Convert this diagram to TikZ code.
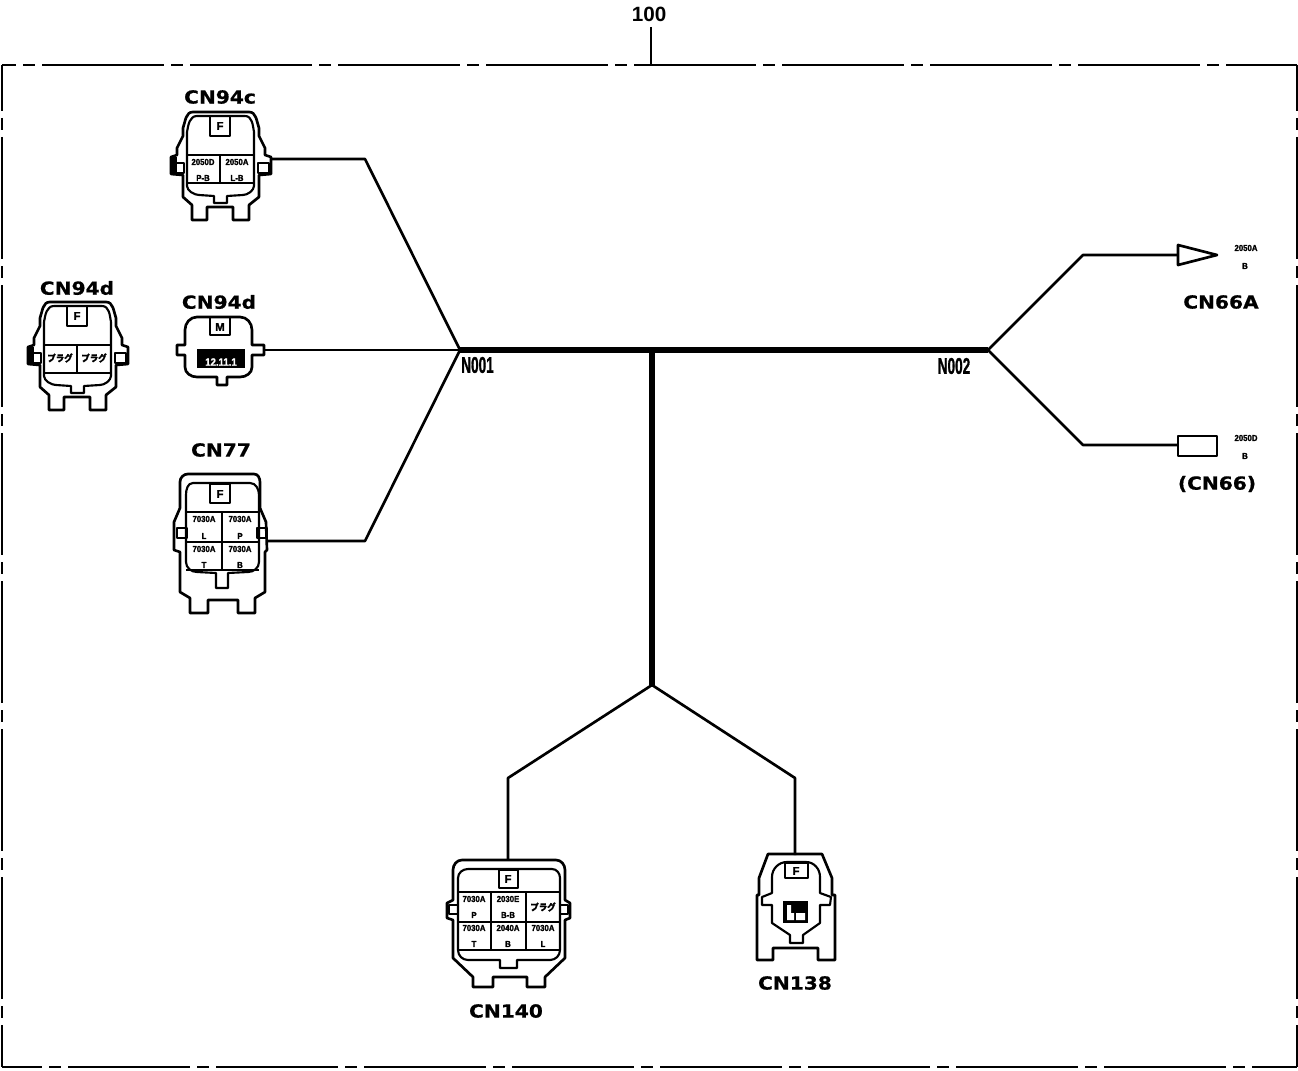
\documentclass[tikz,border=0pt]{standalone}
\usepackage{fontspec}
\setmainfont{Liberation Sans}
\newfontfamily\cjk[FakeBold=1.5]{Noto Sans CJK JP}
\newfontfamily\wide[FakeBold=0.6]{DejaVu Sans}
\newfontfamily\blob[BoldFeatures={FakeBold=1.5}]{Liberation Sans}
\tikzset{
  x=0.75pt,y=-0.75pt,
  frameline/.style={line width=2.1pt,dash pattern=on 91.5pt off 5.25pt on 9pt off 5.25pt},
  wire/.style={line width=2pt,line join=round},
  thinwire/.style={line width=1.1pt},
  trunk/.style={line width=4.6pt},
  shell/.style={line width=2pt,line join=round},
  rim/.style={line width=1.6pt,line join=round},
  bar/.style={line width=2.2pt},
  cnlabel/.style={font=\wide\bfseries\fontsize{13.5}{13.5}\selectfont,inner sep=0pt,xscale=1.12},
  nlabel/.style={font=\blob\bfseries\fontsize{17}{17}\selectfont,inner sep=0pt,xscale=.6},
  fmark/.style={font=\blob\bfseries\fontsize{8.5}{8.5}\selectfont,inner sep=0pt},
  tiny/.style={font=\blob\bfseries\fontsize{6.5}{6.5}\selectfont,inner sep=0pt,xscale=.9},
  tinyj/.style={font=\cjk\bfseries\fontsize{7}{7}\selectfont,inner sep=0pt,xscale=.9},
}
\newcommand{\smallshell}{%
  \draw[shell] (-28,-48) -- (28,-48) to[out=0,in=110] (38,-32) -- (38,-24) -- (44,-12) -- (44,-5)
    -- (50,-3) -- (50,14) -- (38,15) -- (38,37) -- (28,45) -- (28,60) -- (12,60) -- (12,47) -- (-14,47)
    -- (-14,60) -- (-29,60) -- (-29,45) -- (-38,37) -- (-38,15) -- (-50,14) -- (-50,-3) -- (-44,-5)
    -- (-44,-12) -- (-38,-24) -- (-38,-32) to[out=70,in=180] cycle;
  \draw[rim] (-24,-44) -- (24,-44) to[out=0,in=100] (33,-28) -- (33,26) to[out=-90,in=0,looseness=.8] (22,35) -- (6,36)
    -- (6,43) -- (-7,43) -- (-7,36) -- (-22,35) to[out=180,in=-90,looseness=.8] (-34,26) -- (-34,-28) to[out=80,in=180] cycle;
  \draw[rim] (-11,-44) rectangle (9,-24);
  \draw[bar] (-34,-5) -- (33,-5) (-34,23) -- (33,23);
  \draw[rim] (-1,-5) -- (-1,23);
  \draw[rim] (-49,3) rectangle (-37,13) (37,3) rectangle (48,13);
  \fill (-50,-3) rectangle (-44,14);
  \node[fmark] at (-1,-34) {F};
}
\begin{document}
\begin{tikzpicture}
\useasboundingbox (0,0) rectangle (1298,1070);
\fill[white] (0,0) rectangle (1298,1070);

% frame
\coordinate (ftl) at (2,65);
\coordinate (ftr) at (1297,65);
\coordinate (fbr) at (1297,1067);
\coordinate (fbl) at (2,1067);
\coordinate (ftop) at (651,65);
\draw[frameline,dash phase=81pt] (ftl) -- (ftr);
\draw[frameline,dash phase=57pt] (ftl) -- (fbl);
\draw[frameline,dash phase=61.5pt] (fbl) -- (fbr);
\draw[frameline,dash phase=57pt,line width=1.2pt] (ftr) -- (fbr);
\node[font=\bfseries\fontsize{15.5}{15.5}\selectfont,inner sep=0pt] (t100) at (649,14) {100};
\draw[line width=1.3pt] (651,27) -- (ftop);

% junctions
\coordinate (j1) at (460,350);
\coordinate (j2) at (988,350);
\coordinate (jm) at (652,350);
\coordinate (jb) at (652,685);
\coordinate (b1) at (365,159);
\coordinate (b2) at (365,541);
\coordinate (b3) at (1083,255);
\coordinate (b4) at (1083,445);
\coordinate (b5) at (508,778);
\coordinate (b6) at (795,778);
% connector ends
\coordinate (c94c) at (270,159);
\coordinate (c94m) at (265,350);
\coordinate (c77) at (268,541);
\coordinate (c140) at (508,860);
\coordinate (c138) at (795,855);

% CN94c
\begin{scope}[shift={(221,160)}]
  \smallshell
  \node[tiny] at (-18,2) {2050D};
  \node[tiny] at (16,2) {2050A};
  \node[tiny] at (-18,18) {P-B};
  \node[tiny] at (16,18) {L-B};
\end{scope}
\node[cnlabel] (n94c) at (220,97) {CN94c};

% CN94d left
\begin{scope}[shift={(78,350)}]
  \smallshell
  \node[tinyj] at (-18,8) {プラグ};
  \node[tinyj] at (16,8) {プラグ};
\end{scope}
\node[cnlabel] (n94l) at (77,288) {CN94d};

% CN94d middle
\draw[shell] (197,317) -- (240,317) to[out=0,in=90] (252,330) -- (252,345) -- (264,345) -- (264,355) -- (252,355)
  -- (252,367) to[out=-90,in=0] (240,377) -- (227,377) -- (227,385) -- (217,385) -- (217,377) -- (197,377)
  to[out=180,in=-90] (185,367) -- (185,355) -- (177,355) -- (177,345) -- (185,345) -- (185,330) to[out=90,in=180] cycle;
\draw[rim] (210,317) rectangle (230,335);
\node[fmark] at (220,327) {M};
\fill (197,349) rectangle (245,368);
\node[tiny,white,font=\blob\bfseries\fontsize{8}{8}\selectfont] at (221,362) {12.11.1};
\node[cnlabel] (n94m) at (219,302) {CN94d};

% CN77
\draw[shell] (188,474) -- (254,474) to[out=0,in=90] (260,482) -- (260,508) -- (266,522) -- (267,550) -- (265,552) -- (265,592)
  -- (255,598) -- (255,613) -- (238,613) -- (238,600) -- (208,600) -- (208,613) -- (190,613) -- (190,598)
  -- (180,592) -- (180,552) -- (174,550) -- (174,522) -- (180,508) -- (180,482) to[out=90,in=180] cycle;
\draw[rim] (193,483) -- (250,483) to[out=0,in=90] (259,495) -- (259,562) to[out=-90,in=0] (248,572) -- (228,573)
  -- (228,588) -- (216,588) -- (216,573) -- (197,572) to[out=180,in=-90] (186,562) -- (186,495) to[out=90,in=180] cycle;
\draw[rim] (210,484) rectangle (230,503);
\node[fmark] at (220,494) {F};
\draw[bar] (186,512) -- (259,512) (186,542) -- (259,542) (186,570) -- (259,570);
\draw[bar] (222,512) -- (222,570);
\draw[rim] (177,528) rectangle (187,538) (257,528) rectangle (267,538);
\node[tiny] at (204,519) {7030A};
\node[tiny] at (240,519) {7030A};
\node[tiny] at (204,536) {L};
\node[tiny] at (240,536) {P};
\node[tiny] at (204,549) {7030A};
\node[tiny] at (240,549) {7030A};
\node[tiny] at (204,565) {T};
\node[tiny] at (240,565) {B};
\node[cnlabel] (n77) at (221,450) {CN77};

% CN140
\draw[shell] (462,860) -- (556,860) to[out=0,in=90] (565,870) -- (565,900) -- (570,903) -- (570,918) -- (565,920) -- (565,958)
  -- (545,977) -- (545,987) -- (527,987) -- (527,977) -- (493,977) -- (493,987) -- (473,987) -- (473,977) -- (453,958)
  -- (453,920) -- (447,918) -- (447,903) -- (453,900) -- (453,870) to[out=90,in=180] cycle;
\draw[rim] (468,869) -- (552,869) to[out=0,in=90] (560,878) -- (560,950) to[out=-90,in=0] (550,960) -- (517,960)
  -- (517,968) -- (500,968) -- (500,960) -- (468,960) to[out=180,in=-90] (458,950) -- (458,878) to[out=90,in=180] cycle;
\draw[rim] (499,870) rectangle (518,888);
\node[fmark] at (508,879) {F};
\draw[bar] (458,892) -- (560,892) (458,922) -- (560,922) (458,950) -- (560,950);
\draw[rim] (491,892) -- (491,950) (526,892) -- (526,950);
\draw[rim] (449,905) rectangle (458,914) (560,905) rectangle (568,914);
\node[tiny] at (474,899) {7030A};
\node[tiny] at (508,899) {2030E};
\node[tinyj] at (543,907) {プラグ};
\node[tiny] at (474,915) {P};
\node[tiny] at (508,915) {B-B};
\node[tiny] at (474,928) {7030A};
\node[tiny] at (508,928) {2040A};
\node[tiny] at (543,928) {7030A};
\node[tiny] at (474,944) {T};
\node[tiny] at (508,944) {B};
\node[tiny] at (543,944) {L};
\node[cnlabel] (n140) at (506,1011) {CN140};

% CN138
\draw[shell] (768,854) -- (822,854) -- (832,878) -- (832,895) -- (835,895) -- (835,960) -- (818,960) -- (818,948)
  -- (773,948) -- (773,960) -- (757,960) -- (757,895) -- (759,895) -- (759,878) -- cycle;
\draw[rim] (762,897) -- (772,893) -- (772,877) to[out=90,in=180] (787,862) -- (806,862) to[out=0,in=90] (820,877) -- (820,893) -- (831,897) -- (830,905) -- (820,905)
  -- (820,923) -- (803,935) -- (803,943) -- (790,943) -- (790,935) -- (772,923) -- (772,905) -- (762,905) -- cycle;
\draw[rim] (785,863) rectangle (808,878);
\node[fmark] at (796,871) {F};
\fill (783,901) rectangle (808,923);
\fill[white] (787,913) rectangle (794,920) (796,913) rectangle (805,920) (787,905) rectangle (791,913);
\node[cnlabel] (n138) at (795,983) {CN138};

% right side terminals
\coordinate (t66a) at (1178,255);
\coordinate (t66) at (1178,445);
\draw[shell,fill=white] (t66a) -- (1178,245) -- (1217,255) -- (1178,265) -- cycle;
\draw[shell] (t66) -- (1178,436) -- (1217,436) -- (1217,456) -- (1178,456) -- cycle;
\node[tiny] at (1246,248) {2050A};
\node[tiny] at (1245,266) {B};
\node[tiny] at (1246,438) {2050D};
\node[tiny] at (1245,456) {B};
\node[cnlabel] (n66a) at (1221,302) {CN66A};
\node[cnlabel] (n66) at (1217,484) {(CN66)};

% wires
\draw[wire] (c94c) -- (b1) -- (j1);
\draw[thinwire] (c94m) -- (j1);
\draw[wire] (c77) -- (b2) -- (j1);
\draw[trunk] (j1) -- (j2);
\draw[line width=5.2pt] (jm) -- (jb);
\draw[wire] (j2) -- (b3) -- (t66a);
\draw[wire] (j2) -- (b4) -- (t66);
\draw[wire] (c140) -- (b5) -- (jb) -- (b6) -- (c138);

\node[nlabel] (w1) at (477.5,365) {N001};
\node[nlabel] (w2) at (954,366) {N002};
\end{tikzpicture}
\end{document}
